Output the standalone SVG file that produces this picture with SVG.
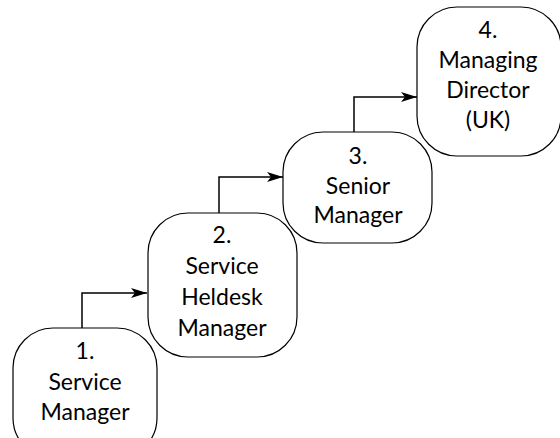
<svg xmlns="http://www.w3.org/2000/svg" width="560" height="438" viewBox="0 0 560 438">
<defs>
<marker id="ah" viewBox="0 0 16 10" refX="16" refY="5" markerWidth="16" markerHeight="10" markerUnits="userSpaceOnUse" orient="auto">
<path d="M0,0 L16,5 L0,10 L4,5 Z" fill="#000"/>
</marker>
<style>
.box{fill:#fff;stroke:#000;stroke-width:1.2}
.t{font-family:Lato,"Open Sans","Liberation Sans",sans-serif;font-size:23px;fill:#000;text-anchor:middle}
.c{fill:none;stroke:#000;stroke-width:1.5;marker-end:url(#ah)}
</style>
</defs>
<rect width="560" height="438" fill="#fff"/>
<g id="connectors">
<path class="c" d="M82,328 V293 H147"/>
<path class="c" d="M219,213 V177 H283"/>
<path class="c" d="M354,132 V97 H417"/>
</g>
<g id="node1">
<rect class="box" x="13" y="328" width="144" height="130" rx="40"/>
<text class="t" x="85" y="359">1.</text>
<text class="t" x="85" y="390">Service</text>
<text class="t" x="85" y="420">Manager</text>
</g>
<g id="node2">
<rect class="box" x="148" y="213" width="149" height="144" rx="40"/>
<text class="t" x="222" y="243">2.</text>
<text class="t" x="222" y="274">Service</text>
<text class="t" x="222" y="305">Heldesk</text>
<text class="t" x="222" y="336">Manager</text>
</g>
<g id="node3">
<rect class="box" x="283" y="132" width="149" height="111" rx="40"/>
<text class="t" x="358" y="164">3.</text>
<text class="t" x="358" y="194">Senior</text>
<text class="t" x="358" y="223">Manager</text>
</g>
<g id="node4">
<rect class="box" x="417" y="7" width="144" height="149" rx="40"/>
<text class="t" x="488" y="38">4.</text>
<text class="t" x="488" y="68">Managing</text>
<text class="t" x="488" y="98">Director</text>
<text class="t" x="488" y="128">(UK)</text>
</g>
</svg>
